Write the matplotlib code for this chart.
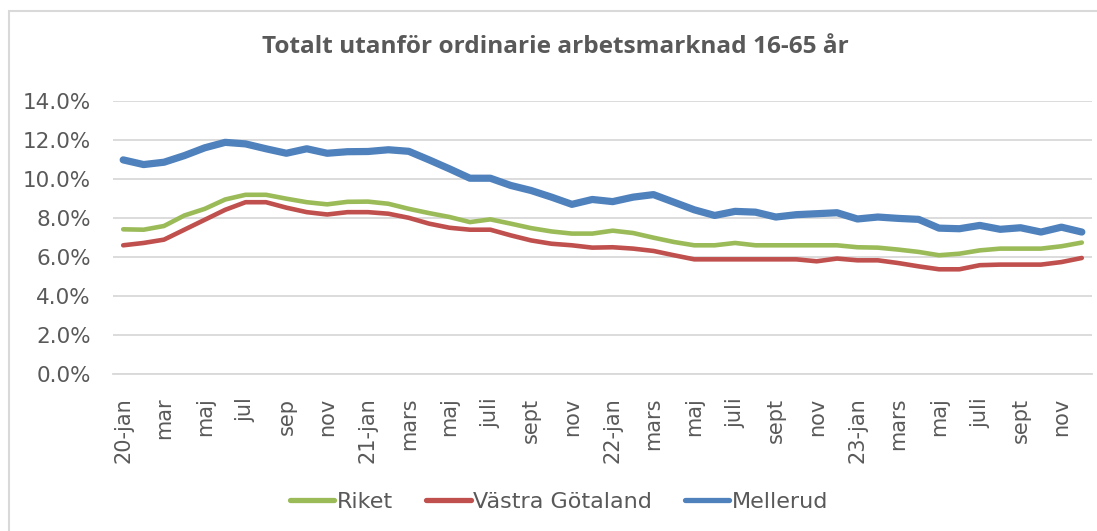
import matplotlib.pyplot as plt
from matplotlib.patches import Rectangle
import numpy as np

# months jan 2020 - dec 2023, every second one gets a label
months = ['20-jan', 'feb', 'mar', 'apr', 'maj', 'jun', 'jul', 'aug', 'sep', 'okt', 'nov', 'dec',
          '21-jan', 'feb', 'mars', 'april', 'maj', 'juni', 'juli', 'aug', 'sept', 'okt', 'nov', 'dec',
          '22-jan', 'feb', 'mars', 'april', 'maj', 'juni', 'juli', 'aug', 'sept', 'okt', 'nov', 'dec',
          '23-jan', 'feb', 'mars', 'april', 'maj', 'juni', 'juli', 'aug', 'sept', 'okt', 'nov', 'dec']

riket = [7.42, 7.40, 7.59, 8.13, 8.47, 8.95, 9.19, 9.19, 8.99, 8.81, 8.70, 8.83,
         8.84, 8.73, 8.47, 8.25, 8.05, 7.79, 7.93, 7.71, 7.48, 7.31, 7.20, 7.20,
         7.35, 7.23, 6.99, 6.77, 6.60, 6.60, 6.72, 6.60, 6.60, 6.60, 6.60, 6.60,
         6.50, 6.48, 6.38, 6.26, 6.09, 6.17, 6.34, 6.43, 6.43, 6.43, 6.55, 6.74]

vastra_gotaland = [6.60, 6.72, 6.89, 7.40, 7.91, 8.42, 8.81, 8.81, 8.53, 8.30, 8.18, 8.30,
                   8.30, 8.22, 8.01, 7.71, 7.50, 7.40, 7.40, 7.11, 6.85, 6.68, 6.60, 6.48,
                   6.50, 6.43, 6.31, 6.09, 5.88, 5.88, 5.88, 5.88, 5.88, 5.88, 5.78, 5.92,
                   5.83, 5.83, 5.69, 5.52, 5.37, 5.37, 5.58, 5.61, 5.61, 5.61, 5.74, 5.95]

mellerud = [10.98, 10.74, 10.86, 11.20, 11.60, 11.88, 11.80, 11.55, 11.32, 11.55, 11.32, 11.40,
            11.41, 11.50, 11.42, 10.98, 10.52, 10.04, 10.04, 9.67, 9.41, 9.07, 8.70, 8.95,
            8.84, 9.07, 9.20, 8.81, 8.42, 8.13, 8.34, 8.30, 8.05, 8.17, 8.22, 8.27,
            7.95, 8.05, 7.98, 7.93, 7.48, 7.45, 7.62, 7.42, 7.50, 7.28, 7.53, 7.28]

text_color = '#595959'

fig = plt.figure(figsize=(10.97, 5.31), dpi=100)
W, H = 1097, 531

# light frame around the chart area
fig.patches.append(Rectangle((9 / W, -0.1), 1.2, 1 - 11 / H + 0.1, transform=fig.transFigure,
                             fill=False, edgecolor='#D9D9D9', linewidth=1.5))

ax = fig.add_axes([113 / W, 1 - 374 / H, (1092 - 113) / W, (374 - 101) / H])

x = np.arange(len(months))
ax.plot(x, np.array(riket) / 100, color='#9BBB59', linewidth=3.3, solid_joinstyle='round',
        solid_capstyle='round', label='Riket')
ax.plot(x, np.array(vastra_gotaland) / 100, color='#C0504D', linewidth=3.3, solid_joinstyle='round',
        solid_capstyle='round', label='Västra Götaland')
ax.plot(x, np.array(mellerud) / 100, color='#4F81BD', linewidth=5.2, solid_joinstyle='round',
        solid_capstyle='round', label='Mellerud')

ax.set_xlim(-0.5, len(months) - 0.5)
ax.set_ylim(0, 0.14)
ax.set_yticks(np.arange(0, 0.141, 0.02))
ax.set_yticklabels([f'{v * 100:.1f}%' for v in np.arange(0, 0.141, 0.02)],
                   fontsize=15.5, color=text_color, family='DejaVu Sans')
ax.set_xticks(x[::2])
ax.set_xticklabels(months[::2], rotation=90, fontsize=15, color=text_color, family='DejaVu Sans')
ax.tick_params(axis='y', length=0, pad=16)
ax.tick_params(axis='x', length=0, pad=17)

ax.grid(axis='y', color='#D9D9D9', linewidth=1.3)
ax.set_axisbelow(True)
for side in ['top', 'right', 'left']:
    ax.spines[side].set_visible(False)
ax.spines['bottom'].set_color('#D9D9D9')
ax.spines['bottom'].set_linewidth(1.3)

fig.text(555 / W, 1 - 47 / H, 'Totalt utanför ordinarie arbetsmarknad 16-65 år', ha='center', va='center',
         fontsize=17.6, fontweight='bold', color=text_color, family='Open Sans')

leg = fig.legend(loc='center', bbox_to_anchor=(559 / W, 1 - 502 / H), ncol=3, frameon=False,
                 handlelength=2.0, handletextpad=0.1, columnspacing=1.5,
                 prop={'family': 'DejaVu Sans', 'size': 16})
for t in leg.get_texts():
    t.set_color(text_color)
for line in leg.get_lines():
    line.set_linewidth(3.8)

plt.savefig('out.png', dpi=100)
